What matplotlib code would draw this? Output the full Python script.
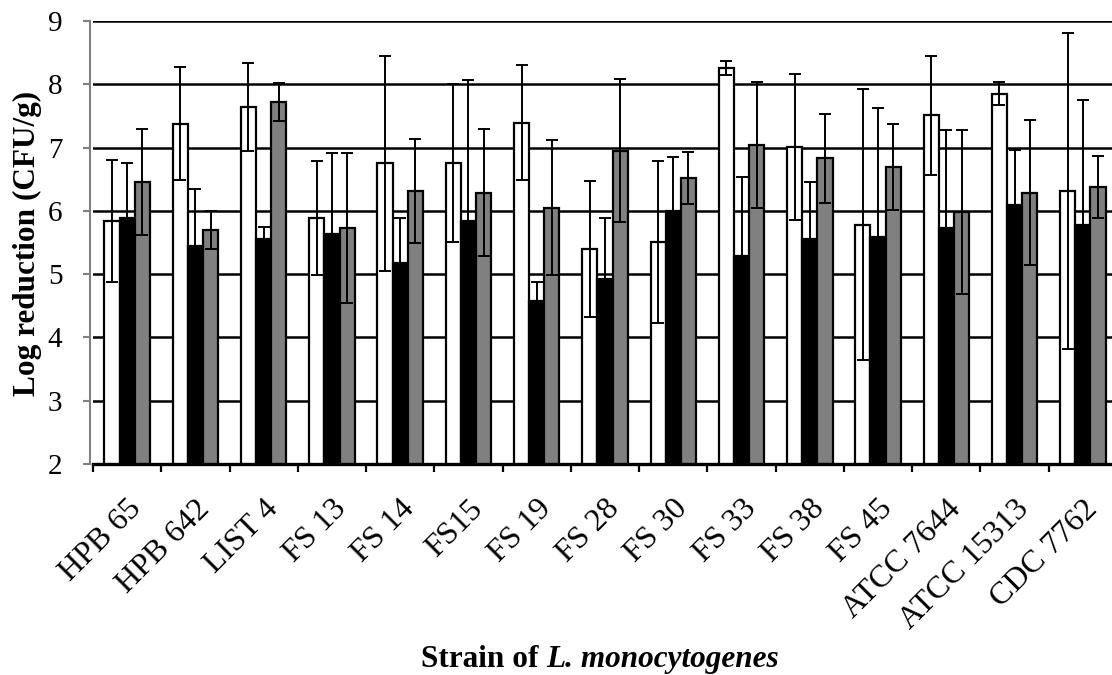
import numpy as np
import matplotlib
matplotlib.use("Agg")
import matplotlib.pyplot as plt
from matplotlib.ticker import FixedLocator, NullFormatter

# log reduction per strain, three treatments (white / black / grey bars)
strains = ["HPB 65", "HPB 642", "LIST 4", "FS 13", "FS 14", "FS15", "FS 19",
           "FS 28", "FS 30", "FS 33", "FS 38", "FS 45", "ATCC 7644",
           "ATCC 15313", "CDC 7762"]

white_vals = [5.84, 7.38, 7.64, 5.89, 6.75, 6.76, 7.39, 5.40, 5.51, 8.26,
              7.01, 5.78, 7.51, 7.85, 6.31]
white_err = [0.96, 0.90, 0.69, 0.90, 1.70, 1.25, 0.91, 1.07, 1.28, 0.11,
             1.15, 2.14, 0.94, 0.18, 2.50]

black_vals = [5.89, 5.45, 5.55, 5.63, 5.17, 5.84, 4.58, 4.92, 6.00, 5.29,
              5.56, 5.59, 5.73, 6.10, 5.77]
black_err = [0.86, 0.90, 0.19, 1.29, 0.72, 2.22, 0.30, 0.97, 0.85, 1.25,
             0.90, 2.04, 1.54, 0.86, 1.98]

gray_vals = [6.46, 5.69, 7.72, 5.73, 6.32, 6.29, 6.05, 6.95, 6.52, 7.04,
             6.83, 6.69, 5.98, 6.29, 6.37]
gray_err = [0.84, 0.30, 0.30, 1.19, 0.82, 1.00, 1.07, 1.13, 0.41, 1.00,
            0.70, 0.68, 1.30, 1.14, 0.49]

plt.rcParams["font.family"] = ["Liberation Serif", "DejaVu Serif"]

W, H = 1112, 675
fig = plt.figure(figsize=(W / 100, H / 100), dpi=100)
# plot area: left edge at 93 px, bottom at 464 px, top at 21 px, runs a bit past the right edge
ax = fig.add_axes([93 / W, (H - 464) / H, (1117 - 93) / W, (464 - 21) / H])

x = np.arange(len(strains))
bw = 1 / 4.5
series = [(white_vals, white_err, "white"),
          (black_vals, black_err, "black"),
          (gray_vals, gray_err, "#808080")]
for i, (vals, err, col) in enumerate(series):
    pos = x + (i - 1) * bw
    ax.bar(pos, vals, width=bw, color=col, edgecolor="black", linewidth=1.6, zorder=2)
    ax.errorbar(pos, vals, yerr=err, fmt="none", ecolor="black", elinewidth=1.4,
                capsize=4.5, capthick=1.4, zorder=3)

ax.set_ylim(2, 9)
ax.set_xlim(-0.5, len(strains) - 0.5)
ax.set_yticks(range(2, 10))
ax.yaxis.grid(True, color="black", linewidth=1.8)
ax.set_axisbelow(True)

for s in ["top", "right"]:
    ax.spines[s].set_visible(False)
ax.spines["left"].set_color("#808080")
ax.spines["left"].set_linewidth(1.5)
ax.spines["left"].set_position(("outward", 2))
ax.spines["bottom"].set_linewidth(2.4)

ax.tick_params(axis="y", colors="#808080", direction="out", length=5, width=1.5,
               labelcolor="black", labelsize=21, pad=15)

# category boundaries get the tick marks, labels sit at the centres
ax.xaxis.set_major_locator(FixedLocator(np.arange(-0.5, len(strains), 1.0)))
ax.xaxis.set_major_formatter(NullFormatter())
ax.xaxis.set_minor_locator(FixedLocator(x))
ax.set_xticklabels(strains, minor=True, rotation=45, ha="right", va="top",
                   rotation_mode="anchor", fontsize=23)
ax.tick_params(axis="x", which="major", direction="out", length=6, width=1.6,
               color="black")
ax.tick_params(axis="x", which="minor", length=0, pad=22)

fig.text(27 / W, (H - 243) / H, "Log reduction (CFU/g)", rotation=90,
         ha="center", va="center", fontsize=22.5, fontweight="bold")

# x title: upright part followed by the italic species name, centred as a pair
renderer = fig.canvas.get_renderer()
t1 = fig.text(0, 0, "Strain of ", fontsize=22.5, fontweight="bold")
t2 = fig.text(0, 0, "L. monocytogenes", fontsize=22.5, fontweight="bold",
              fontstyle="italic")
w1 = t1.get_window_extent(renderer).width
w2 = t2.get_window_extent(renderer).width
x0 = 600 - (w1 + w2) / 2
base = (H - 667) / H
t1.set_position((x0 / W, base))
t1.set_va("baseline")
t2.set_position(((x0 + w1) / W, base))
t2.set_va("baseline")

fig.savefig("out.png", dpi=100)
